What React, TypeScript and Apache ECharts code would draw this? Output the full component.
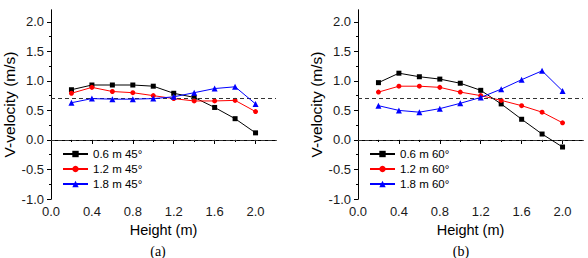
import React, { useEffect, useRef } from "react";
import * as echarts from "echarts";

// Measurement heights (m)
const HEIGHTS = [0.2, 0.4, 0.6, 0.8, 1.0, 1.2, 1.4, 1.6, 1.8, 2.0];

// Panel (a): 45° inlet
const A_06 = [0.85, 0.93, 0.93, 0.93, 0.91, 0.79, 0.72, 0.55, 0.36, 0.12];
const A_12 = [0.79, 0.89, 0.82, 0.8, 0.75, 0.7, 0.66, 0.66, 0.67, 0.48];
const A_18 = [0.63, 0.7, 0.69, 0.69, 0.7, 0.73, 0.8, 0.87, 0.9, 0.61];

// Panel (b): 60° inlet
const B_06 = [0.97, 1.13, 1.07, 1.03, 0.96, 0.84, 0.61, 0.35, 0.1, -0.12];
const B_12 = [0.81, 0.91, 0.91, 0.89, 0.81, 0.75, 0.67, 0.58, 0.47, 0.29];
const B_18 = [0.58, 0.5, 0.47, 0.53, 0.62, 0.72, 0.86, 1.02, 1.17, 0.83];

const NAMES_A = ["0.6 m 45°", "1.2 m 45°", "1.8 m 45°"];
const NAMES_B = ["0.6 m 60°", "1.2 m 60°", "1.8 m 60°"];
const CAPTIONS = ["(a)", "(b)"];

const X_MAJOR = [0, 0.4, 0.8, 1.2, 1.6, 2.0];
const X_MINOR = [0.2, 0.6, 1.0, 1.4, 1.8];
const Y_MAJOR = [-1.0, -0.5, 0, 0.5, 1.0, 1.5, 2.0];
const Y_MINOR = [-0.75, -0.25, 0.25, 0.75, 1.25, 1.75];
const REF_LINES = [0.7, 0];

const X_RANGE = [0, 2.2];
const Y_RANGE = [-1.0, 2.2];

const FONT = "'Liberation Sans', Arial, Helvetica, sans-serif";
const INK = "#000";
const LABEL_INK = "#1a1a1a";

const GRIDS = [
  { left: 51, top: 10, width: 225, height: 189 },
  { left: 358, top: 10, width: 225, height: 189 },
];
const CAPTION_X = [158, 461];

function makeXAxes(g: number) {
  const base = {
    type: "value" as const,
    gridIndex: g,
    min: X_RANGE[0],
    max: X_RANGE[1],
    splitLine: { show: false },
  };
  return [
    {
      ...base,
      position: "bottom",
      axisLine: { show: true, lineStyle: { color: INK, width: 1 } },
      axisTick: { show: true, inside: false, length: 4, customValues: X_MAJOR, lineStyle: { color: INK } },
      axisLabel: {
        customValues: X_MAJOR,
        formatter: (v: number) => v.toFixed(1),
        margin: 6,
        fontSize: 13,
        color: LABEL_INK,
        fontFamily: FONT,
      },
      name: "Height (m)",
      nameLocation: "middle",
      nameGap: 21,
      nameTextStyle: { fontSize: 14.5, color: INK, fontFamily: FONT },
    },
    {
      ...base,
      position: "bottom",
      axisLine: { show: false },
      axisTick: { show: true, inside: false, length: 2, customValues: X_MINOR, lineStyle: { color: INK } },
      axisLabel: { show: false },
    },
    {
      ...base,
      position: "top",
      axisLine: { show: true, lineStyle: { color: INK, width: 1 } },
      axisTick: { show: true, inside: true, length: 4, customValues: X_MAJOR, lineStyle: { color: INK } },
      axisLabel: { show: false },
    },
    {
      ...base,
      position: "top",
      axisLine: { show: false },
      axisTick: { show: true, inside: true, length: 2, customValues: X_MINOR, lineStyle: { color: INK } },
      axisLabel: { show: false },
    },
  ];
}

function makeYAxes(g: number) {
  const base = {
    type: "value" as const,
    gridIndex: g,
    min: Y_RANGE[0],
    max: Y_RANGE[1],
    splitLine: { show: false },
  };
  return [
    {
      ...base,
      position: "left",
      axisLine: { show: true, lineStyle: { color: INK, width: 1 } },
      axisTick: { show: true, inside: false, length: 4, customValues: Y_MAJOR, lineStyle: { color: INK } },
      axisLabel: {
        customValues: Y_MAJOR,
        formatter: (v: number) => v.toFixed(1),
        margin: 7,
        fontSize: 13,
        color: LABEL_INK,
        fontFamily: FONT,
      },
      name: "V-velocity (m/s)",
      nameLocation: "middle",
      nameGap: 30,
      nameTextStyle: { fontSize: 15.5, color: INK, fontFamily: FONT },
    },
    {
      ...base,
      position: "left",
      axisLine: { show: false },
      axisTick: { show: true, inside: false, length: 2, customValues: Y_MINOR, lineStyle: { color: INK } },
      axisLabel: { show: false },
    },
    {
      ...base,
      position: "right",
      axisLine: { show: true, lineStyle: { color: INK, width: 1 } },
      axisTick: { show: true, inside: true, length: 4, customValues: Y_MAJOR, lineStyle: { color: INK } },
      axisLabel: { show: false },
    },
    {
      ...base,
      position: "right",
      axisLine: { show: false },
      axisTick: { show: true, inside: true, length: 2, customValues: Y_MINOR, lineStyle: { color: INK } },
      axisLabel: { show: false },
    },
  ];
}

const STYLES = [
  { color: "#000000", symbol: "rect", symbolSize: 5 },
  { color: "#ff0000", symbol: "circle", symbolSize: 5 },
  { color: "#0000ff", symbol: "triangle", symbolSize: 6 },
];

function makeSeries(g: number, names: string[], values: number[][]) {
  return values.map((vals, i) => ({
    type: "line",
    name: names[i],
    xAxisIndex: g * 4,
    yAxisIndex: g * 4,
    data: HEIGHTS.map((h, k) => [h, vals[k]]),
    symbol: STYLES[i].symbol,
    symbolSize: STYLES[i].symbolSize,
    showSymbol: true,
    lineStyle: { color: STYLES[i].color, width: 1 },
    itemStyle: { color: STYLES[i].color },
    z: 3 + i,
    markLine:
      i === 0
        ? {
            silent: true,
            symbol: ["none", "none"],
            label: { show: false },
            lineStyle: { type: [4, 3], color: "#333", width: 1 },
            data: REF_LINES.map((y) => ({ yAxis: y })),
          }
        : undefined,
  }));
}

function makeLegend(g: number, names: string[]) {
  return {
    data: names,
    orient: "vertical",
    left: GRIDS[g].left + 11,
    top: 148,
    padding: 0,
    itemWidth: 25,
    itemHeight: 8,
    itemGap: 3,
    textStyle: { fontSize: 11.5, color: INK, fontFamily: FONT },
    selectedMode: false,
  };
}

export default function App() {
  const ref = useRef<HTMLDivElement>(null);

  useEffect(() => {
    if (!ref.current) return;
    const chart = echarts.init(ref.current, undefined, { renderer: "svg" });
    chart.setOption({
      animation: false,
      backgroundColor: "#ffffff",
      grid: GRIDS.map((g) => ({ ...g, containLabel: false })),
      xAxis: [...makeXAxes(0), ...makeXAxes(1)],
      yAxis: [...makeYAxes(0), ...makeYAxes(1)],
      legend: [makeLegend(0, NAMES_A), makeLegend(1, NAMES_B)],
      series: [
        ...makeSeries(0, NAMES_A, [A_06, A_12, A_18]),
        ...makeSeries(1, NAMES_B, [B_06, B_12, B_18]),
      ],
      graphic: CAPTIONS.map((c, g) => ({
        type: "text",
        x: CAPTION_X[g],
        y: 251,
        style: {
          text: c,
          fontSize: 14,
          fontFamily: "'Liberation Serif', 'Times New Roman', serif",
          fill: INK,
          textAlign: "center",
          textVerticalAlign: "middle",
        },
      })),
    });
    return () => chart.dispose();
  }, []);

  return (
    <div
      ref={ref}
      style={{ position: "fixed", left: 0, top: 0, width: 588, height: 258, background: "#fff" }}
    />
  );
}
